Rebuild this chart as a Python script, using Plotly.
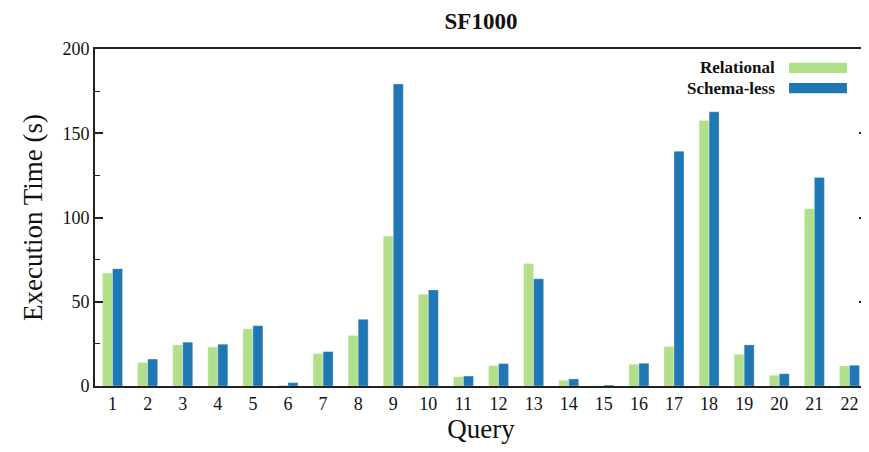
import plotly.graph_objects as go

queries = [str(i) for i in range(1, 23)]
relational = [67, 14, 24.4, 23.2, 34, 0.5, 19.2, 30, 89, 54.5, 5.5, 12.1, 72.7, 3.4, 0.2, 12.9, 23.4, 157.5, 18.8, 6.4, 105.2, 11.9]
schemaless = [69.6, 16, 26, 24.8, 35.8, 2, 20.4, 39.6, 179.3, 57, 5.9, 13.3, 63.6, 4.2, 0.6, 13.5, 139.3, 162.7, 24.4, 7.3, 123.8, 12.3]
series_names = ["Relational", "Schema-less"]
colors = ["#b2df8a", "#1f78b4"]

FONT = "Liberation Serif"

fig = go.Figure()
for name, vals, c in zip(series_names, [relational, schemaless], colors):
    fig.add_trace(go.Bar(
        x=queries, y=vals, name=name, marker_color=c,
        marker_line=dict(color="rgba(255,255,255,0.6)", width=0.5),
        showlegend=False,
    ))

# custom legend (text right-aligned, swatch to the right of the text)
legend_rows = [(0.944, series_names[0], colors[0]), (0.884, series_names[1], colors[1])]
for yc, name, c in legend_rows:
    fig.add_annotation(xref="paper", yref="paper", x=0.884, y=yc, text="<b>" + name + "</b>",
                       showarrow=False, xanchor="right", yanchor="middle",
                       font=dict(family=FONT, size=17, color="#111"))
    fig.add_shape(type="rect", xref="paper", yref="paper",
                  x0=0.899, x1=0.974, y0=yc - 0.015, y1=yc + 0.015,
                  fillcolor=c, line=dict(width=0))

# the page body adds an 8px offset; figure is sized to fill the window exactly
fig.update_layout(
    width=861, height=444,
    margin=dict(l=87, r=2, t=41, b=66),
    paper_bgcolor="white", plot_bgcolor="white",
    barmode="group", bargap=0.43, bargroupgap=0.0,
    font=dict(family=FONT, color="#111"),
    title=dict(text="<b>SF1000</b>", x=0.5, xref="paper", xanchor="center",
               y=1 - 5 / 444, yref="container", yanchor="top",
               font=dict(family=FONT, size=23, color="#111")),
)
fig.update_xaxes(
    type="category", range=[-0.5, 21.5], automargin=False,
    showline=True, linecolor="#222", linewidth=2, mirror=True,
    ticks="", tickfont=dict(family=FONT, size=18, color="#111"),
    title=dict(text="Query", font=dict(family=FONT, size=27, color="#111"), standoff=4),
    showgrid=False,
)
fig.update_yaxes(
    range=[0, 200], tickvals=[0, 50, 100, 150, 200], automargin=False,
    showline=True, linecolor="#222", linewidth=2, mirror="ticks",
    ticks="inside", ticklen=8, tickwidth=1.5, tickcolor="#222",
    minor=dict(tickvals=[25, 75, 125, 175], ticks="inside", ticklen=5, tickwidth=1.2, tickcolor="#222"),
    tickfont=dict(family=FONT, size=18, color="#111"),
    title=dict(text="Execution Time (s)", font=dict(family=FONT, size=27, color="#111"), standoff=12),
    showgrid=False, zeroline=False,
)

fig.write_html("out.html")
